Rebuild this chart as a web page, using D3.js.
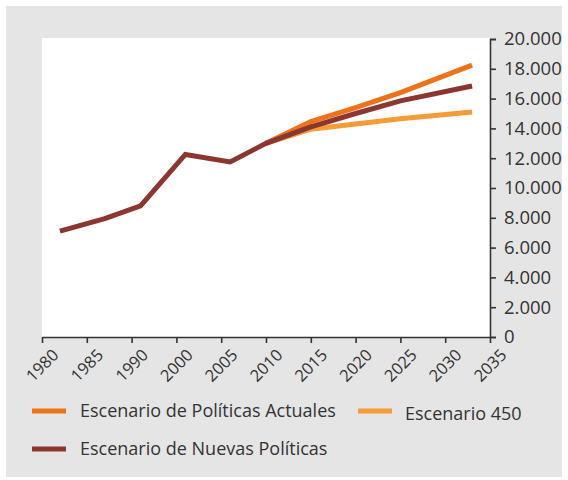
<!DOCTYPE html>
<html lang="es">
  <head>
    <meta charset="utf-8">
    <title>Escenarios</title>
    <script type="text/javascript" src="https://cdn.jsdelivr.net/npm/d3@7/dist/d3.min.js"></script>
    <style type="text/css">
      body { margin: 0; background: #fff; }
      .axis text { font-family: "Open Sans", sans-serif; font-size: 16.5px; fill: #333; }
      .yaxis text { font-size: 18.5px; }
      .axis path, .axis line { stroke: #333; stroke-width: 1.6px; }
      .legend text { font-family: "Open Sans", sans-serif; font-size: 18px; fill: #333; }
    </style>
  </head>
  <body>
  <script type="text/javascript">

    // tick labels (1995 is not on the original axis)
    const categories = ["1980", "1985", "1990", "2000", "2005", "2010", "2015", "2020", "2025", "2030", "2035"];
    const yTicks = [0, 2000, 4000, 6000, 8000, 10000, 12000, 14000, 16000, 18000, 20000];

    // historical part, shared by all scenarios
    const histYears = [1982, 1987, 1992, 2001, 2006, 2010];
    const histValues = [7100, 7950, 8800, 12250, 11750, 13000];

    // projections
    const projYears = [2010, 2015, 2020, 2025, 2033];
    const actuales = [13000, 14450, 15400, 16400, 18250];
    const nuevas = [13000, 14100, 15000, 15850, 16850];
    const esc450 = [13000, 13950, 14300, 14650, 15100];

    const seriesNames = ["Escenario de Políticas Actuales", "Escenario 450", "Escenario de Nuevas Políticas"];
    const seriesColors = ["#ee7219", "#f59b38", "#8b3630"];

    const w = 568;
    const h = 480;
    const margin = {top: 38, right: 78, bottom: 143, left: 42};

    const svg = d3.select("body")
                  .append("svg")
                  .attr("width", w)
                  .attr("height", h);

    svg.append("rect")
       .attr("x", 6)
       .attr("y", 6)
       .attr("width", 556)
       .attr("height", 471)
       .attr("fill", "#e5e5e5");

    svg.append("rect")
       .attr("x", margin.left)
       .attr("y", margin.top)
       .attr("width", w - margin.left - margin.right)
       .attr("height", h - margin.top - margin.bottom)
       .attr("fill", "#fff");

    const xPoint = d3.scalePoint()
                     .domain(categories)
                     .range([margin.left, w - margin.right]);

    // piecewise scale so years fall between the (uneven) category ticks
    const xScale = d3.scaleLinear()
                     .domain(categories.map(Number))
                     .range(categories.map(c => xPoint(c)));

    const yScale = d3.scaleLinear()
                     .domain([0, 20000])
                     .range([h - margin.bottom, margin.top + 1]);

    const es = d3.formatLocale({decimal: ",", thousands: ".", grouping: [3], currency: ["", "€"]});
    const fmt = es.format(",");

    const line = d3.line()
                   .x(d => xScale(d[0]))
                   .y(d => yScale(d[1]));

    const hist = histYears.map((y, i) => [y, histValues[i]]);
    const proj = s => projYears.map((y, i) => [y, s[i]]);

    const drawOrder = [
      {pts: proj(esc450), color: seriesColors[1]},
      {pts: proj(actuales), color: seriesColors[0]},
      {pts: hist.concat(proj(nuevas).slice(1)), color: seriesColors[2]}
    ];

    svg.selectAll("path.serie")
       .data(drawOrder)
       .enter()
       .append("path")
       .attr("class", "serie")
       .attr("d", d => line(d.pts))
       .attr("fill", "none")
       .attr("stroke", d => d.color)
       .attr("stroke-width", 5);

    const xAxis = d3.axisBottom(xPoint)
                    .tickSize(6)
                    .tickSizeOuter(0);

    const gx = svg.append("g")
       .attr("class", "axis")
       .attr("transform", "translate(0," + (h - margin.bottom) + ")")
       .call(xAxis);

    gx.selectAll("text")
      .attr("y", 0)
      .attr("x", 0)
      .attr("dy", "0.35em")
      .attr("text-anchor", "end")
      .attr("transform", "translate(13,15) rotate(-45)");

    const yAxis = d3.axisRight(yScale)
                    .tickValues(yTicks)
                    .tickFormat(fmt)
                    .tickSize(6)
                    .tickSizeOuter(6)
                    .tickPadding(8);

    svg.append("g")
       .attr("class", "axis yaxis")
       .attr("transform", "translate(" + (w - margin.right) + ",0)")
       .call(yAxis);

    const legendPos = [[32, 411], [358, 411], [32, 449]];

    const lg = svg.selectAll("g.legend")
       .data(seriesNames)
       .enter()
       .append("g")
       .attr("class", "legend")
       .attr("transform", (d, i) => "translate(" + legendPos[i][0] + "," + legendPos[i][1] + ")");

    lg.append("line")
      .attr("x1", 0)
      .attr("x2", 34)
      .attr("y1", 0)
      .attr("y2", 0)
      .attr("stroke", (d, i) => seriesColors[i])
      .attr("stroke-width", 5);

    lg.append("text")
      .attr("x", (d, i) => i === 1 ? 47 : 48)
      .attr("y", (d, i) => i === 1 ? 3 : 0)
      .attr("dy", "0.35em")
      .text(d => d);

  </script>
  </body>
</html>
